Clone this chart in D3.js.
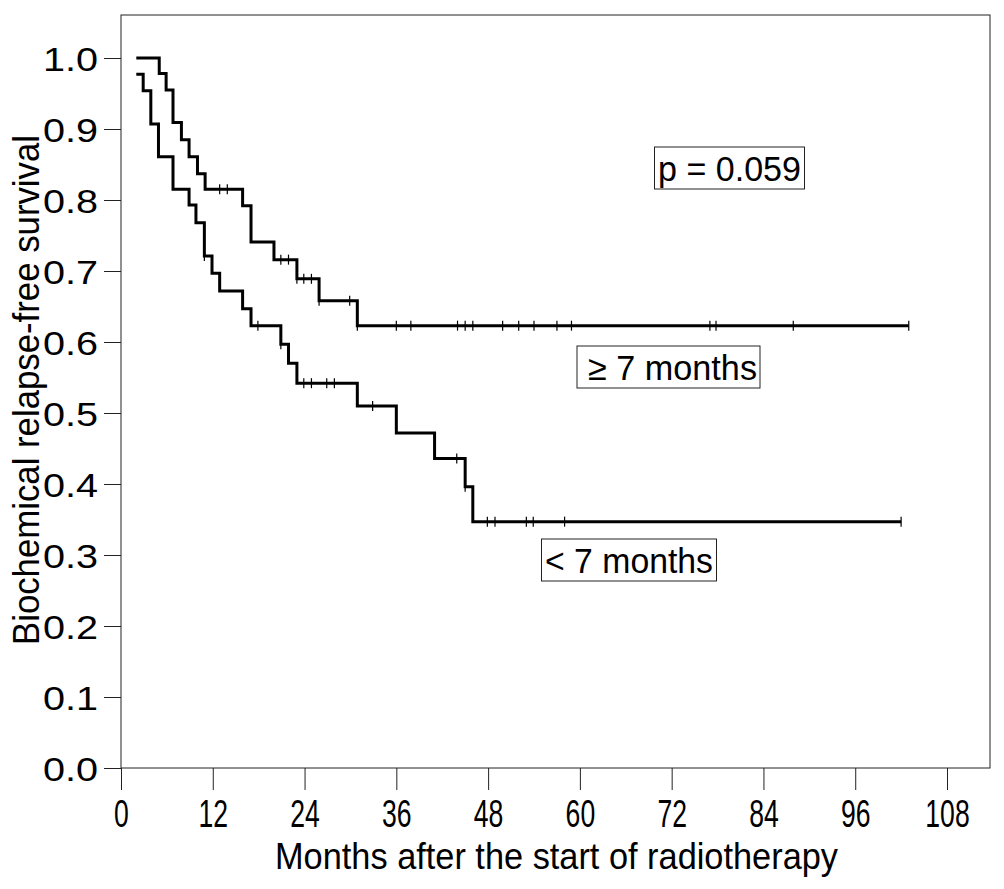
<!DOCTYPE html>
<html>
<head>
<meta charset="utf-8">
<script src="https://cdn.jsdelivr.net/npm/d3@7/dist/d3.min.js"></script>
<style>
  html, body { margin: 0; padding: 0; background: #fff; }
  svg { display: block; }
  text { font-family: "Liberation Sans", Arial, sans-serif; fill: #000; }
</style>
</head>
<body>
<svg id="chart" width="1004" height="889"></svg>
<script>
// ---- Data ----
const xTickValues = [0, 12, 24, 36, 48, 60, 72, 84, 96, 108];
const yTickValues = [0.0, 0.1, 0.2, 0.3, 0.4, 0.5, 0.6, 0.7, 0.8, 0.9, 1.0];

// ">= 7 months" group: step times (months) and survival after each step
const upperTimes = [2, 5.0, 5.9, 6.8, 7.9, 8.9, 10.0, 11.0, 15.9, 17.0, 20.0, 23.0, 25.9, 30.9];
const upperSurv  = [1.0, 0.978, 0.955, 0.909, 0.885, 0.861, 0.837, 0.815, 0.792, 0.741, 0.716, 0.689, 0.658, 0.623];
const upperEnd = 103.0;
const upperCensored = [12.9, 13.9, 20.9, 21.9, 23.0, 23.9, 24.9, 25.9, 29.9, 30.9, 36.0, 37.9, 44.0, 45.0, 46.0, 49.9, 52.0, 54.0, 57.0, 58.9, 77.0, 77.8, 87.9, 103.0];

// "< 7 months" group
const lowerTimes = [2, 2.9, 3.9, 4.9, 6.8, 8.9, 9.8, 10.9, 11.9, 12.9, 15.9, 17.0, 20.9, 21.9, 23.0, 30.9, 36.0, 41.0, 45.0, 46.0];
const lowerSurv  = [0.977, 0.954, 0.907, 0.861, 0.815, 0.793, 0.768, 0.721, 0.697, 0.672, 0.647, 0.623, 0.597, 0.570, 0.542, 0.510, 0.472, 0.436, 0.396, 0.347];
const lowerEnd = 102.0;
const lowerCensored = [10.9, 17.9, 20.9, 23.9, 24.9, 26.9, 27.9, 32.9, 43.9, 45.0, 47.9, 48.9, 53.0, 53.9, 58.0, 102.0];

const pLabel = "p = 0.059";
const groupLabels = ["\u2265 7 months", "< 7 months"];
const xTitle = "Months after the start of radiotherapy";
const yTitle = "Biochemical relapse-free survival";

// ---- Layout ----
const svg = d3.select("#chart");
const x = d3.scaleLinear().domain([0, 108]).range([121, 947]);
const y = d3.scaleLinear().domain([0, 1]).range([768, 58]);
const frame = { left: 121, top: 15, right: 990, bottom: 768 };

// frame
svg.append("rect")
  .attr("x", frame.left).attr("y", frame.top)
  .attr("width", frame.right - frame.left).attr("height", frame.bottom - frame.top)
  .attr("fill", "none").attr("stroke", "#222").attr("stroke-width", 1);

// x axis
const gx = svg.append("g").attr("transform", `translate(0,${frame.bottom})`)
  .call(d3.axisBottom(x).tickValues(xTickValues).tickSize(22).tickSizeOuter(0).tickFormat(d3.format("d")));
gx.select(".domain").remove();
gx.selectAll(".tick line").attr("stroke", "#222");
gx.selectAll(".tick text")
  .attr("y", 59).attr("dy", 0)
  .attr("font-size", 38)
  .attr("font-family", "Liberation Sans, Arial, sans-serif")
  .attr("transform", "scale(0.7,1)")
  .attr("fill", "#000");

// y axis
const ySX = 1.2;
const gy = svg.append("g").attr("transform", `translate(${frame.left},0)`)
  .call(d3.axisLeft(y).tickValues(yTickValues).tickSize(17).tickSizeOuter(0).tickFormat(d3.format(".1f")));
gy.select(".domain").remove();
gy.selectAll(".tick line").attr("stroke", "#222");
gy.selectAll(".tick text")
  .attr("x", -23 / ySX).attr("dy", 12)
  .attr("font-size", 33)
  .attr("font-family", "Liberation Sans, Arial, sans-serif")
  .attr("transform", `scale(${ySX},1)`)
  .attr("fill", "#000");

// axis titles
svg.append("text")
  .attr("x", 275).attr("y", 869)
  .attr("font-size", 37)
  .attr("textLength", 563).attr("lengthAdjust", "spacingAndGlyphs")
  .text(xTitle);

svg.append("text")
  .attr("transform", "translate(39,645) rotate(-90)")
  .attr("x", 0).attr("y", 0)
  .attr("font-size", 36)
  .attr("textLength", 510).attr("lengthAdjust", "spacingAndGlyphs")
  .text(yTitle);

// ---- curves ----
function stepSeries(times, surv, end) {
  const pts = times.map((t, i) => [t, surv[i]]);
  pts.push([end, surv[surv.length - 1]]);
  return pts;
}
function survAt(times, surv, t) {
  const i = d3.bisectRight(times, t) - 1;
  return surv[Math.max(0, i)];
}
const line = d3.line().x(d => x(d[0])).y(d => y(d[1])).curve(d3.curveStepAfter);

const groups = [
  { times: upperTimes, surv: upperSurv, end: upperEnd, cens: upperCensored },
  { times: lowerTimes, surv: lowerSurv, end: lowerEnd, cens: lowerCensored }
];

groups.forEach(g => {
  svg.append("path")
    .datum(stepSeries(g.times, g.surv, g.end))
    .attr("d", line)
    .attr("fill", "none").attr("stroke", "#000")
    .attr("stroke-width", 3).attr("stroke-linejoin", "miter").attr("stroke-linecap", "butt");
  svg.append("g").selectAll("line")
    .data(g.cens)
    .join("line")
    .attr("x1", d => x(d)).attr("x2", d => x(d))
    .attr("y1", d => y(survAt(g.times, g.surv, d)) - 5)
    .attr("y2", d => y(survAt(g.times, g.surv, d)) + 5)
    .attr("stroke", "#000").attr("stroke-width", 1.2);
});

// ---- boxed labels ----
const boxes = [
  { text: pLabel, left: 658, width: 143, cy: 168, padL: 3.5, padR: 3.5 },
  { text: groupLabels[0], left: 588, width: 169, cy: 367, padL: 11, padR: 3 },
  { text: groupLabels[1], left: 545, width: 168, cy: 560, padL: 3.5, padR: 3.5 }
];
boxes.forEach(b => {
  svg.append("rect")
    .attr("x", b.left - b.padL).attr("y", b.cy - 21)
    .attr("width", b.width + b.padL + b.padR).attr("height", 42)
    .attr("fill", "#fff").attr("stroke", "#222").attr("stroke-width", 1);
  svg.append("text")
    .attr("x", b.left).attr("y", b.cy + 13)
    .attr("font-size", 35)
    .attr("textLength", b.width).attr("lengthAdjust", "spacingAndGlyphs")
    .text(b.text);
});
</script>
</body>
</html>
